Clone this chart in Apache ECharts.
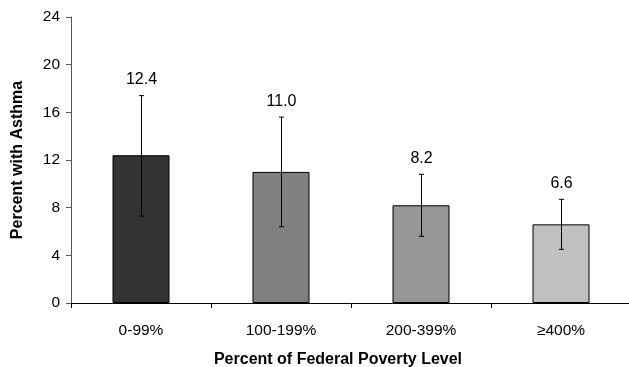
<!DOCTYPE html>
<html><head><meta charset="utf-8">
<script src="https://cdn.jsdelivr.net/npm/echarts@6/dist/echarts.min.js"></script>
<style>html,body{margin:0;padding:0;background:#fff}#c{width:629px;height:367px}</style>
</head><body><div id="c"></div>
<script>
var categories = ['0-99%', '100-199%', '200-399%', '\u2265400%'];
var values = [12.4, 11.0, 8.2, 6.6];
var lowerCI = [7.3, 6.4, 5.6, 4.5];
var upperCI = [17.4, 15.6, 10.8, 8.7];
var barColors = ['#333333', '#808080', '#969696', '#c0c0c0'];
var yTicks = [0, 4, 8, 12, 16, 20, 24];

var chart = echarts.init(document.getElementById('c'));
var font = 'Liberation Sans, Arial, sans-serif';
chart.setOption({
  animation: false,
  grid: { left: 71, top: 17, width: 560, height: 286, containLabel: false, outerBoundsMode: 'none' },
  xAxis: {
    type: 'category', data: categories,
    axisLine: { lineStyle: { color: '#000', width: 1 } },
    axisTick: { show: true, length: 5, alignWithLabel: false, lineStyle: { color: '#000' } },
    axisLabel: { color: '#000', fontFamily: font, fontSize: 15.5, margin: 20 },
    name: 'Percent of Federal Poverty Level', nameLocation: 'middle', nameGap: 49,
    nameTextStyle: { color: '#000', fontFamily: font, fontSize: 16, fontWeight: 'bold', padding: [0, 0, 0, -26] }
  },
  yAxis: {
    type: 'value', min: yTicks[0], max: yTicks[yTicks.length - 1], interval: 4,
    axisLine: { show: true, lineStyle: { color: '#555', width: 1 } },
    axisTick: { show: true, length: 5, inside: false, lineStyle: { color: '#555' } },
    splitLine: { show: false },
    axisLabel: { color: '#000', fontFamily: font, fontSize: 15.5, margin: 11 },
    name: 'Percent with Asthma', nameLocation: 'middle', nameGap: 45,
    nameTextStyle: { color: '#000', fontFamily: font, fontSize: 16, fontWeight: 'bold' }
  },
  series: [
    {
      type: 'bar', barWidth: 57,
      data: values.map(function (v, i) {
        return { value: v, itemStyle: { color: barColors[i], borderColor: '#000', borderWidth: 1 } };
      })
    },
    {
      type: 'custom', z: 10,
      data: values.map(function (v, i) { return [i, lowerCI[i], upperCI[i], v]; }),
      renderItem: function (params, api) {
        var x = api.value(0);
        var lo = api.coord([x, api.value(1)]);
        var hi = api.coord([x, api.value(2)]);
        var cx = Math.round(lo[0]) + 0.5;
        var cap = 2.5;
        var st = { stroke: '#000', lineWidth: 1 };
        return {
          type: 'group',
          children: [
            { type: 'line', shape: { x1: cx, y1: hi[1], x2: cx, y2: lo[1] }, style: st },
            { type: 'line', shape: { x1: cx - cap, y1: hi[1], x2: cx + cap, y2: hi[1] }, style: st },
            { type: 'line', shape: { x1: cx - cap, y1: lo[1], x2: cx + cap, y2: lo[1] }, style: st },
            { type: 'text', style: { x: cx, y: hi[1] - 16, text: api.value(3).toFixed(1), fill: '#000',
              font: '16px ' + font, textAlign: 'center', textVerticalAlign: 'middle' } }
          ]
        };
      }
    }
  ]
});
</script>
</body></html>
